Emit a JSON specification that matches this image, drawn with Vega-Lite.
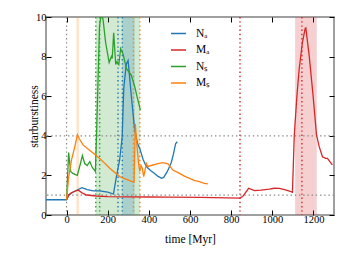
{
  "$schema": "https://vega.github.io/schema/vega-lite/v6.json",
  "autosize": {"type": "none"},
  "padding": {"left": 46, "top": 17, "right": 12, "bottom": 45},
  "width": 288,
  "height": 198,
  "config": {
    "font": "Liberation Serif",
    "view": {"stroke": "#808080", "strokeWidth": 1.5},
    "axis": {"labelFont": "Liberation Serif", "titleFont": "Liberation Serif", "labelFontSize": 10.5, "titleFontSize": 11.5, "titleFontWeight": "normal", "labelColor": "#000", "titleColor": "#000", "tickColor": "#000", "domain": false, "grid": false},
    "legend": {"labelFont": "Liberation Serif", "orient": "none", "legendX": 124, "legendY": 8, "title": null, "symbolType": "stroke", "symbolSize": 225, "symbolStrokeWidth": 1.5, "labelFontSize": 11.5, "labelOffset": 9, "rowPadding": 2.5, "symbolOpacity": 1}
  },
  "datasets": {
    "lines": [
      {"s": "NA", "t": -100, "v": 0.77}, {"s": "NA", "t": 0, "v": 0.77}, {"s": "NA", "t": 10, "v": 1.0}, {"s": "NA", "t": 30, "v": 1.15}, {"s": "NA", "t": 50, "v": 1.25}, {"s": "NA", "t": 75, "v": 1.38}, {"s": "NA", "t": 100, "v": 1.28}, {"s": "NA", "t": 130, "v": 1.22}, {"s": "NA", "t": 160, "v": 1.22}, {"s": "NA", "t": 200, "v": 1.15}, {"s": "NA", "t": 228, "v": 1.06}, {"s": "NA", "t": 242, "v": 1.93}, {"s": "NA", "t": 258, "v": 2.78}, {"s": "NA", "t": 270, "v": 3.9}, {"s": "NA", "t": 278, "v": 6.4}, {"s": "NA", "t": 290, "v": 7.6}, {"s": "NA", "t": 299, "v": 7.8}, {"s": "NA", "t": 315, "v": 6.0}, {"s": "NA", "t": 331, "v": 4.3}, {"s": "NA", "t": 345, "v": 3.6}, {"s": "NA", "t": 356, "v": 3.35}, {"s": "NA", "t": 372, "v": 2.8}, {"s": "NA", "t": 388, "v": 2.45}, {"s": "NA", "t": 408, "v": 2.25}, {"s": "NA", "t": 428, "v": 2.1}, {"s": "NA", "t": 445, "v": 1.95}, {"s": "NA", "t": 462, "v": 1.85}, {"s": "NA", "t": 472, "v": 1.9}, {"s": "NA", "t": 490, "v": 2.2}, {"s": "NA", "t": 509, "v": 2.65}, {"s": "NA", "t": 520, "v": 3.1}, {"s": "NA", "t": 530, "v": 3.6}, {"s": "NA", "t": 538, "v": 3.7},
      {"s": "MA", "t": 0, "v": 0.77}, {"s": "MA", "t": 10, "v": 1.0}, {"s": "MA", "t": 20, "v": 1.1}, {"s": "MA", "t": 40, "v": 1.2}, {"s": "MA", "t": 56, "v": 1.26}, {"s": "MA", "t": 75, "v": 1.12}, {"s": "MA", "t": 97, "v": 1.01}, {"s": "MA", "t": 145, "v": 0.96}, {"s": "MA", "t": 200, "v": 0.93}, {"s": "MA", "t": 300, "v": 0.92}, {"s": "MA", "t": 400, "v": 0.91}, {"s": "MA", "t": 500, "v": 0.9}, {"s": "MA", "t": 650, "v": 0.89}, {"s": "MA", "t": 840, "v": 0.85}, {"s": "MA", "t": 856, "v": 0.93}, {"s": "MA", "t": 885, "v": 1.35}, {"s": "MA", "t": 913, "v": 1.23}, {"s": "MA", "t": 945, "v": 1.26}, {"s": "MA", "t": 985, "v": 1.31}, {"s": "MA", "t": 1010, "v": 1.35}, {"s": "MA", "t": 1034, "v": 1.34}, {"s": "MA", "t": 1060, "v": 1.28}, {"s": "MA", "t": 1091, "v": 1.18}, {"s": "MA", "t": 1098, "v": 1.15}, {"s": "MA", "t": 1107, "v": 4.04}, {"s": "MA", "t": 1120, "v": 6.06}, {"s": "MA", "t": 1131, "v": 7.4}, {"s": "MA", "t": 1147, "v": 8.75}, {"s": "MA", "t": 1160, "v": 9.43}, {"s": "MA", "t": 1163, "v": 9.45}, {"s": "MA", "t": 1179, "v": 8.08}, {"s": "MA", "t": 1198, "v": 6.06}, {"s": "MA", "t": 1215, "v": 4.04}, {"s": "MA", "t": 1228, "v": 3.45}, {"s": "MA", "t": 1244, "v": 2.94}, {"s": "MA", "t": 1260, "v": 2.86}, {"s": "MA", "t": 1268, "v": 2.86}, {"s": "MA", "t": 1292, "v": 2.53},
      {"s": "NS", "t": 0, "v": 0.77}, {"s": "NS", "t": 10, "v": 3.15}, {"s": "NS", "t": 20, "v": 2.2}, {"s": "NS", "t": 30, "v": 2.1}, {"s": "NS", "t": 52, "v": 2.0}, {"s": "NS", "t": 65, "v": 2.5}, {"s": "NS", "t": 77, "v": 3.0}, {"s": "NS", "t": 88, "v": 2.6}, {"s": "NS", "t": 100, "v": 2.5}, {"s": "NS", "t": 113, "v": 2.7}, {"s": "NS", "t": 125, "v": 2.4}, {"s": "NS", "t": 140, "v": 2.2}, {"s": "NS", "t": 147, "v": 4.5}, {"s": "NS", "t": 160, "v": 9.5}, {"s": "NS", "t": 168, "v": 10.1}, {"s": "NS", "t": 177, "v": 9.9}, {"s": "NS", "t": 190, "v": 8.7}, {"s": "NS", "t": 207, "v": 7.7}, {"s": "NS", "t": 218, "v": 8.0}, {"s": "NS", "t": 222, "v": 7.9}, {"s": "NS", "t": 229, "v": 9.2}, {"s": "NS", "t": 239, "v": 7.6}, {"s": "NS", "t": 245, "v": 7.75}, {"s": "NS", "t": 254, "v": 7.6}, {"s": "NS", "t": 263, "v": 8.4}, {"s": "NS", "t": 274, "v": 8.15}, {"s": "NS", "t": 291, "v": 7.4}, {"s": "NS", "t": 315, "v": 7.05}, {"s": "NS", "t": 331, "v": 6.5}, {"s": "NS", "t": 342, "v": 6.0}, {"s": "NS", "t": 359, "v": 5.3},
      {"s": "MS", "t": 0, "v": 0.77}, {"s": "MS", "t": 10, "v": 1.9}, {"s": "MS", "t": 24, "v": 2.78}, {"s": "MS", "t": 40, "v": 3.45}, {"s": "MS", "t": 53, "v": 4.05}, {"s": "MS", "t": 62, "v": 3.85}, {"s": "MS", "t": 80, "v": 3.54}, {"s": "MS", "t": 121, "v": 3.2}, {"s": "MS", "t": 161, "v": 2.86}, {"s": "MS", "t": 210, "v": 2.36}, {"s": "MS", "t": 258, "v": 1.94}, {"s": "MS", "t": 291, "v": 1.8}, {"s": "MS", "t": 328, "v": 1.65}, {"s": "MS", "t": 334, "v": 4.6}, {"s": "MS", "t": 344, "v": 3.28}, {"s": "MS", "t": 350, "v": 2.6}, {"s": "MS", "t": 356, "v": 2.2}, {"s": "MS", "t": 362, "v": 2.5}, {"s": "MS", "t": 368, "v": 2.36}, {"s": "MS", "t": 375, "v": 1.94}, {"s": "MS", "t": 388, "v": 2.6}, {"s": "MS", "t": 395, "v": 2.45}, {"s": "MS", "t": 412, "v": 2.5}, {"s": "MS", "t": 444, "v": 2.6}, {"s": "MS", "t": 468, "v": 2.64}, {"s": "MS", "t": 493, "v": 2.58}, {"s": "MS", "t": 517, "v": 2.27}, {"s": "MS", "t": 549, "v": 2.1}, {"s": "MS", "t": 575, "v": 1.95}, {"s": "MS", "t": 598, "v": 1.85}, {"s": "MS", "t": 620, "v": 1.75}, {"s": "MS", "t": 646, "v": 1.68}, {"s": "MS", "t": 670, "v": 1.6}, {"s": "MS", "t": 687, "v": 1.57}
    ],
    "bands": [
      {"s": "MS", "t0": 48, "t1": 60},
      {"s": "NS", "t0": 142, "t1": 356},
      {"s": "NA", "t0": 271, "t1": 331},
      {"s": "MA", "t0": 1111, "t1": 1216}
    ],
    "vlines": [
      {"s": "NS", "t": 142}, {"s": "NS", "t": 161},
      {"s": "NA", "t": 250}, {"s": "NA", "t": 271},
      {"s": "MS", "t": 325}, {"s": "MS", "t": 356},
      {"s": "MA", "t": 843}, {"s": "MA", "t": 1144}
    ],
    "hlines": [{"v": 1}, {"v": 4}],
    "zero": [{"t": 0}]
  },
  "resolve": {"axis": {"x": "independent", "y": "independent"}},
  "layer": [
    {
      "data": {"name": "bands"},
      "mark": {"type": "rect", "opacity": 0.22},
      "encoding": {
        "x": {"field": "t0", "type": "quantitative", "axis": null},
        "x2": {"field": "t1"},
        "color": {"field": "s", "type": "nominal", "legend": {"labelExpr": "{'NA':'Nₐ','MA':'Mₐ','NS':'Nₛ','MS':'Mₛ'}[datum.label]"}}
      }
    },
    {
      "data": {"name": "vlines"},
      "mark": {"type": "rule", "strokeDash": [1.4, 2.8], "strokeWidth": 1.4},
      "encoding": {
        "x": {"field": "t", "type": "quantitative", "axis": null},
        "color": {"field": "s", "type": "nominal", "legend": {"labelExpr": "{'NA':'Nₐ','MA':'Mₐ','NS':'Nₛ','MS':'Mₛ'}[datum.label]"}}
      }
    },
    {
      "data": {"name": "zero"},
      "mark": {"type": "rule", "strokeDash": [1.4, 2.8], "strokeWidth": 1.2, "color": "#888888"},
      "encoding": {
        "x": {"field": "t", "type": "quantitative", "axis": {"orient": "top", "labels": false, "title": null, "tickSize": -5, "values": [0, 200, 400, 600, 800, 1000, 1200]}}
      }
    },
    {
      "data": {"name": "hlines"},
      "mark": {"type": "rule", "strokeDash": [1.4, 2.8], "strokeWidth": 1.2, "color": "#888888"},
      "encoding": {
        "y": {"field": "v", "type": "quantitative", "axis": {"orient": "right", "labels": false, "title": null, "tickSize": -5, "values": [0, 2, 4, 6, 8, 10]}}
      }
    },
    {
      "data": {"name": "lines"},
      "mark": {"type": "line", "strokeWidth": 1.3, "clip": true},
      "encoding": {
        "x": {"field": "t", "type": "quantitative", "scale": {"domain": [-100, 1300], "nice": false, "zero": false}, "axis": {"title": "time [Myr]", "format": "d", "tickSize": -5, "labelPadding": 4, "values": [0, 200, 400, 600, 800, 1000, 1200], "titlePadding": 9}},
        "y": {"field": "v", "type": "quantitative", "scale": {"domain": [0, 10], "nice": false}, "axis": {"title": "starburstiness", "tickSize": -5, "labelPadding": 5, "values": [0, 2, 4, 6, 8, 10], "titlePadding": -4}},
        "color": {
          "field": "s", "type": "nominal",
          "scale": {"domain": ["NA", "MA", "NS", "MS"], "range": ["#1f77b4", "#d62728", "#2ca02c", "#ff7f0e"]},
          "legend": {"labelExpr": "{'NA':'Nₐ','MA':'Mₐ','NS':'Nₛ','MS':'Mₛ'}[datum.label]"}
        },
        "order": {"field": "t", "type": "quantitative"}
      }
    }
  ]
}
